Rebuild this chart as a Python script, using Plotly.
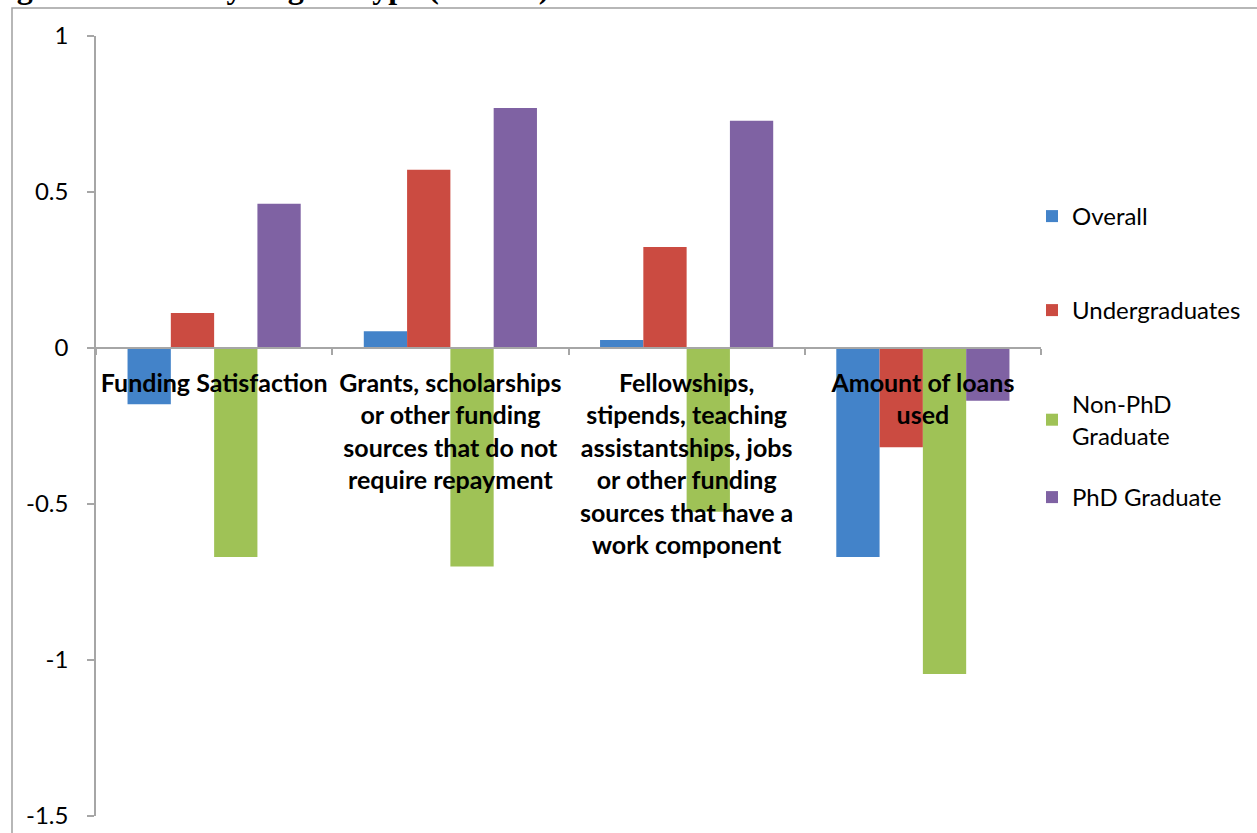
import plotly.graph_objects as go

# Category keys and their wrapped axis labels
categories = [
    "Funding Satisfaction",
    "Grants, scholarships or other funding sources that do not require repayment",
    "Fellowships, stipends, teaching assistantships, jobs or other funding sources that have a work component",
    "Amount of loans used",
]
category_labels = [
    "Funding Satisfaction",
    "Grants, scholarships<br>or other funding<br>sources that do not<br>require repayment",
    "Fellowships,<br>stipends, teaching<br>assistantships, jobs<br>or other funding<br>sources that have a<br>work component",
    "Amount of loans<br>used",
]

# Series values per category
overall = [-0.18, 0.054, 0.026, -0.67]
undergraduates = [0.112, 0.571, 0.324, -0.318]
non_phd_graduate = [-0.67, -0.70, -0.525, -1.045]
phd_graduate = [0.462, 0.769, 0.728, -0.169]

series_names = ["Overall", "Undergraduates", "Non-PhD<br>Graduate", "PhD Graduate"]

# Value axis ticks
y_tickvals = [1, 0.5, 0, -0.5, -1, -1.5]
y_ticktext = ["1", "0.5", "0", "-0.5", "-1", "-1.5"]

title_text = "Funding Satisfaction by Degree Type (n = 563)"

W, H = 1257, 833
L, R, T, B = 96, 216, 36, 17
PW, PH = W - L - R, H - T - B


def px_x(p):
    return (p - L) / PW


def px_y(p):
    return 1 - (p - T) / PH


colors = ["#4383c9", "#cb4b41", "#9fc256", "#7f62a3"]
values = [overall, undergraduates, non_phd_graduate, phd_graduate]
legend_ids = ["legend", "legend2", "legend3", "legend4"]
legend_pix_y = [216, 310, 404, 497]

fig = go.Figure()
for name, vals, col, lg in zip(series_names, values, colors, legend_ids):
    fig.add_trace(go.Bar(
        x=categories, y=vals, name=name, legend=lg,
        marker=dict(color=col, line=dict(width=0)),
    ))

font_family = "Lato"
legend_common = dict(
    font=dict(family=font_family, size=24, color="#000000"),
    bgcolor="rgba(0,0,0,0)", borderwidth=0,
    xanchor="left", yanchor="top",
    itemclick=False, itemdoubleclick=False,
)
layout_legends = {}
for lg, py in zip(legend_ids, legend_pix_y):
    layout_legends[lg] = dict(legend_common, x=px_x(1032), y=px_y(py - 22))

fig.update_layout(
    width=W, height=H,
    margin=dict(l=L, r=R, t=T, b=B, autoexpand=False),
    paper_bgcolor="white", plot_bgcolor="white",
    barmode="group", bargap=0.267, bargroupgap=0,
    showlegend=True,
    xaxis=dict(
        type="category",
        tickmode="array", tickvals=categories, ticktext=category_labels,
        tickson="boundaries", tickangle=0,
        anchor="free", position=0.6,
        showline=True, linecolor="#a6a6a6", linewidth=1.5,
        ticks="outside", ticklen=6, tickcolor="#a6a6a6", tickwidth=1.5,
        tickfont=dict(family=font_family, size=25, color="#000000", weight="bold"),
        showgrid=False, zeroline=False, automargin=False,
        ticklabelstandoff=13,
    ),
    yaxis=dict(
        range=[-1.5, 1], tickmode="array", tickvals=y_tickvals, ticktext=y_ticktext,
        showline=True, linecolor="#a6a6a6", linewidth=1.5,
        ticks="outside", ticklen=7, tickcolor="#a6a6a6", tickwidth=1.5,
        tickfont=dict(family=font_family, size=24, color="#000000"),
        showgrid=False, zeroline=False, automargin=False,
        ticklabelstandoff=14,
    ),
    **layout_legends,
)

# Outer chart frame
fig.add_shape(
    type="rect", xref="paper", yref="paper",
    x0=px_x(12), x1=px_x(1300), y0=px_y(900), y1=px_y(8),
    line=dict(color="#a0a0a0", width=1.5), fillcolor="rgba(0,0,0,0)", layer="below",
)

# Title, sitting mostly above the top of the page
fig.add_annotation(
    text=title_text, xref="paper", yref="paper",
    x=px_x(-85), y=px_y(7), xanchor="left", yanchor="bottom",
    showarrow=False,
    font=dict(family="Liberation Serif", size=32, color="#000000", weight="bold"),
)

fig.write_html("out.html")
